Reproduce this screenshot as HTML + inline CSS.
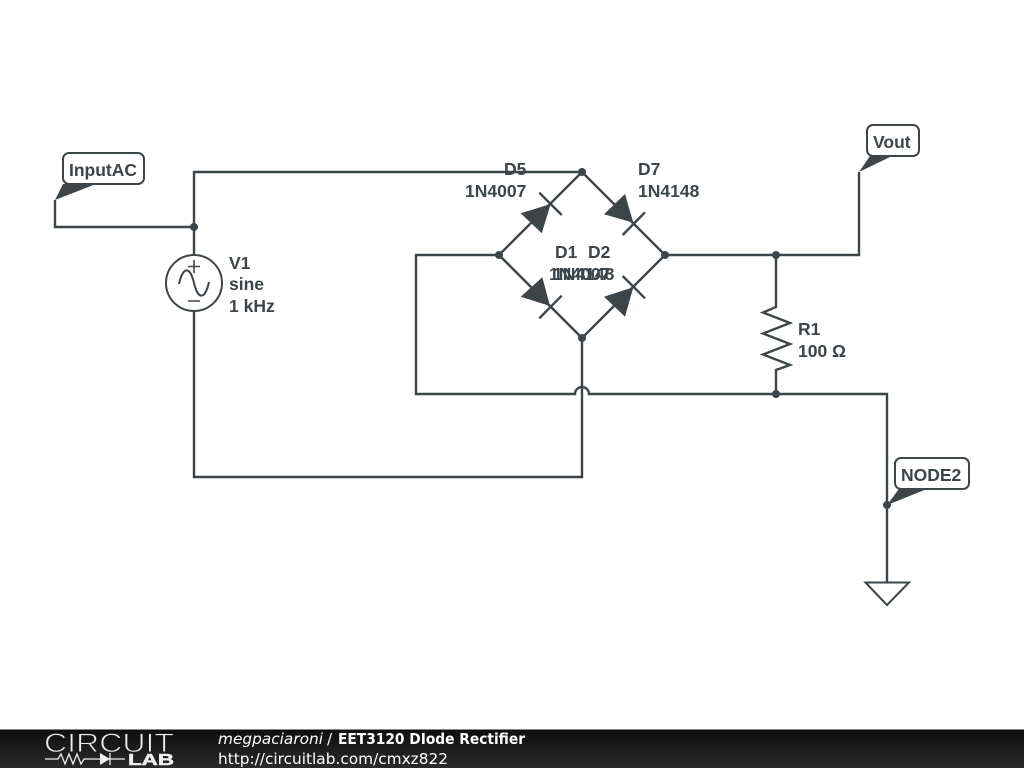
<!DOCTYPE html>
<html><head><meta charset="utf-8"><style>
html,body{margin:0;padding:0;background:#fff;width:1024px;height:768px;overflow:hidden}
svg{position:absolute;left:0;top:0;display:block}
.t{font-family:"Liberation Sans",sans-serif;font-weight:bold;font-size:17.5px;fill:#3d4549}
.f{font-family:"DejaVu Sans",sans-serif;font-size:15.4px;fill:#fff}
</style></head><body>
<svg width="1024" height="768" viewBox="0 0 1024 768" xmlns="http://www.w3.org/2000/svg">
<defs><linearGradient id="g" x1="0" y1="0" x2="0" y2="1"><stop offset="0" stop-color="#0e0e0e"/><stop offset="1" stop-color="#2a2a2a"/></linearGradient></defs>
<g fill="none" stroke="#3d4549" stroke-width="2.4" stroke-linejoin="miter">
<path d="M55 200V227H194"/>
<path d="M194 255V172H582L665 255L582 338L499 255L582 172"/>
<path d="M194 311V477H582V338"/>
<path d="M499 255H416V394H575A7 7 0 0 1 589 394H887V582"/>
<path d="M665 255H859V172"/>
<path d="M776 255V307L763 312.5L790 323L763 333.5L790 344L763 354.5L790 365L776 370V394"/>
<path d="M539.3 192.7L561.7 215M622.7 235L645 212.3M539.3 318.3L561.7 295.7M622.7 276L645 298.3"/>
</g>
<g fill="#3d4549">
<path d="M550.7 204L520.7 213.3L541.7 233.3Z"/>
<path d="M633.3 222.7L604 214.3L625 194Z"/>
<path d="M550 306L520.7 296.7L542.3 277.3Z"/>
<path d="M633.3 287.3L604 296.7L625 316.7Z"/>
<circle cx="194" cy="227" r="4"/><circle cx="582" cy="172" r="4"/><circle cx="499" cy="255" r="4"/><circle cx="665" cy="255" r="4"/><circle cx="582" cy="338" r="4"/><circle cx="776" cy="255" r="4"/><circle cx="776" cy="394" r="4"/><circle cx="887" cy="505" r="4"/>
<path d="M55 200L63 184H96Z"/>
<path d="M859 172L870 156H892Z"/>
<path d="M887 505L899 489H927Z"/>
</g>
<g fill="#fff" stroke="#3d4549" stroke-width="2">
<circle cx="194" cy="283" r="28"/>
<rect x="63" y="153" width="81" height="31" rx="6"/>
<rect x="867" y="125" width="52" height="31" rx="6"/>
<rect x="895" y="458" width="74" height="31" rx="6"/>
<path d="M865.5 582.500H909L887 605Z"/>
</g>
<g fill="none" stroke="#3d4549" stroke-width="1.6">
<path d="M194 260V273M188 266.500H200M188 301H200"/>
<path d="M179 284C183 266 190 266 194 283C198 300 205 300 209 282" stroke-width="2"/>
</g>
<text class="t" x="504" y="175">D5</text>
<text class="t" x="465" y="197">1N4007</text>
<text class="t" x="638" y="175">D7</text>
<text class="t" x="638" y="197">1N4148</text>
<text class="t" x="555" y="258">D1</text>
<text class="t" x="588" y="258">D2</text>
<text class="t" x="549" y="280">1N4007</text>
<text class="t" x="553" y="280">1N4148</text>
<text class="t" x="229" y="269">V1</text>
<text class="t" x="229" y="290">sine</text>
<text class="t" x="229" y="312">1 kHz</text>
<text class="t" x="798" y="335">R1</text>
<text class="t" x="798" y="357">100 Ω</text>
<text class="t" x="69" y="176">InputAC</text>
<text class="t" x="873" y="148">Vout</text>
<text class="t" x="901" y="481">NODE2</text>
<rect x="0" y="729" width="1024" height="39" fill="url(#g)"/>
<rect x="0" y="729" width="1024" height="1" fill="#888"/>
<text x="44" y="752" textLength="130" lengthAdjust="spacingAndGlyphs" style="font-family:'Liberation Sans',sans-serif;font-size:27px;fill:#eee;stroke:#1a1a1a;stroke-width:.9">CIRCUIT</text>
<g fill="none" stroke="#eee" stroke-width="1.3">
<path d="M45 759H58L61 754L65 764L69 754L73 764L77 754L81 764L84 759H100M109 759H125M110 753V765"/>
</g>
<path d="M100 753L110 759L100 765Z" fill="#eee"/>
<text x="128" y="765" textLength="46" lengthAdjust="spacingAndGlyphs" style="font-family:'Liberation Sans',sans-serif;font-weight:bold;font-size:15.500px;fill:#eee;stroke:#eee;stroke-width:.5">LAB</text>
<text class="f" x="218" y="744" font-style="italic" textLength="105" lengthAdjust="spacingAndGlyphs">megpaciaroni</text>
<text class="f" x="327" y="744">/</text>
<text class="f" x="338" y="744" font-weight="bold" textLength="187" lengthAdjust="spacingAndGlyphs">EET3120 DIode Rectifier</text>
<text class="f" x="218" y="764" textLength="230" lengthAdjust="spacingAndGlyphs">http://circuitlab.com/cmxz822</text>
</svg>
</body></html>
